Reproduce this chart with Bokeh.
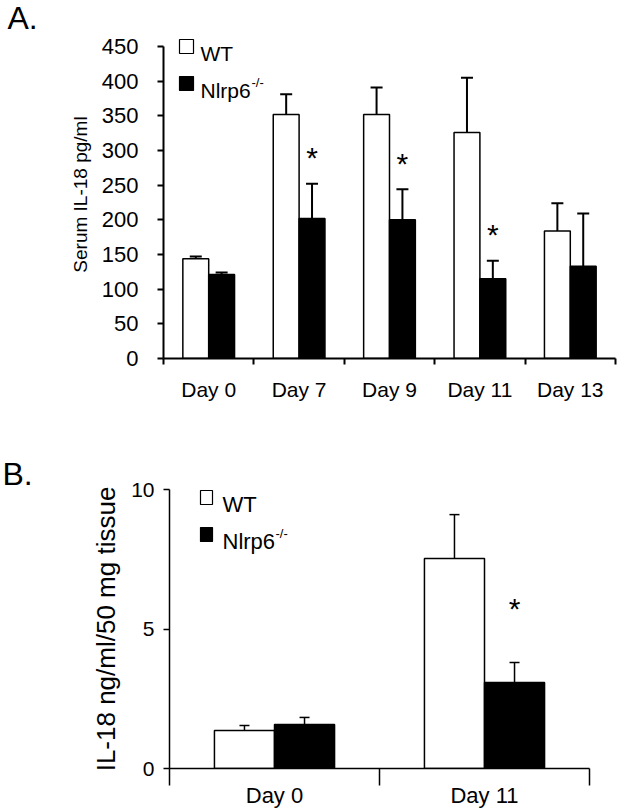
from bokeh.plotting import figure
from bokeh.models import (ColumnDataSource, FixedTicker, Whisker, TeeHead, Label,
                          BoxAnnotation, Range1d)
from bokeh.embed import file_html
from bokeh.resources import INLINE
from bokeh.core.properties import value

FONT = "Liberation Sans"

# ---------------- data ----------------
days_a = ["Day 0", "Day 7", "Day 9", "Day 11", "Day 13"]
wt_a = [144, 352, 352, 326, 184]
wt_a_err = [3, 29, 39, 79, 40]
ko_a = [121, 202, 200, 115, 133]
ko_a_err = [3, 50, 44, 26, 76]
sig_a = [False, True, True, True, False]
yticks_a = [0, 50, 100, 150, 200, 250, 300, 350, 400, 450]

days_b = ["Day 0", "Day 11"]
wt_b = [1.36, 7.53]
wt_b_err = [0.18, 1.57]
ko_b = [1.58, 3.08]
ko_b_err = [0.25, 0.72]
sig_b = [False, True]
yticks_b = [0, 5, 10]

BAR_W = 0.286


def style_axes(p, axis_w, ytick_len, xtick_len, ylab_font, xlab_font, title_font,
               label_standoff, title_standoff, xlab_standoff):
    p.xgrid.visible = False
    p.ygrid.visible = False
    p.outline_line_color = None
    for ax in (p.xaxis[0], p.yaxis[0]):
        ax.axis_line_color = "black"
        ax.axis_line_width = axis_w
        ax.major_label_text_font = FONT
        ax.major_label_text_color = "black"
        ax.axis_label_text_font = FONT
        ax.axis_label_text_font_style = "normal"
        ax.axis_label_text_color = "black"
    ya = p.yaxis[0]
    ya.major_tick_out = ytick_len
    ya.major_tick_in = 0
    ya.major_tick_line_width = axis_w
    ya.major_tick_line_color = "black"
    ya.minor_tick_line_color = None
    ya.major_label_text_font_size = ylab_font
    ya.axis_label_text_font_size = title_font
    ya.major_label_standoff = label_standoff
    ya.axis_label_standoff = title_standoff
    xa = p.xaxis[0]
    xa.major_tick_out = 0
    xa.major_tick_in = 0
    xa.major_tick_line_color = None
    xa.minor_tick_out = xtick_len
    xa.minor_tick_in = 0
    xa.minor_tick_line_color = "black"
    xa.minor_tick_line_width = axis_w
    xa.major_label_text_font_size = xlab_font
    xa.major_label_standoff = xlab_standoff


def bars(p, cats, wt, wt_err, ko, ko_err, sig, cap, wlw, star_off, star_size):
    n = len(cats)
    xc = [i + 0.5 for i in range(n)]
    xw = [c - BAR_W / 2 for c in xc]
    xk = [c + BAR_W / 2 for c in xc]
    src = ColumnDataSource(dict(
        xw=xw, xk=xk, wt=wt, ko=ko,
        wt_up=[a + b for a, b in zip(wt, wt_err)],
        ko_up=[a + b for a, b in zip(ko, ko_err)],
    ))
    p.vbar(x="xw", top="wt", bottom=0, width=BAR_W, source=src,
           fill_color="white", line_color="black", line_width=1.5)
    p.vbar(x="xk", top="ko", bottom=0, width=BAR_W, source=src,
           fill_color="black", line_color="black", line_width=1.5)
    p.add_layout(Whisker(base="xw", lower="wt", upper="wt_up", source=src,
                         line_width=wlw, line_color="black", lower_head=None,
                         upper_head=TeeHead(size=cap, line_width=wlw, line_color="black")))
    p.add_layout(Whisker(base="xk", lower="ko", upper="ko_up", source=src,
                         line_width=wlw, line_color="black", lower_head=None,
                         upper_head=TeeHead(size=cap, line_width=wlw, line_color="black")))
    sx = [xk[i] for i in range(n) if sig[i]]
    sy = [ko[i] + ko_err[i] for i in range(n) if sig[i]]
    p.text(x=sx, y=sy, text=["*"] * len(sx), text_align="center",
           text_baseline="middle", y_offset=star_off,
           text_font=value(FONT), text_font_size=star_size, text_color="black")
    xt = FixedTicker(ticks=xc, minor_ticks=list(range(n + 1)))
    p.xaxis[0].ticker = xt
    p.xaxis[0].major_label_overrides = {c: cats[i] for i, c in enumerate(xc)}


def legend(p, box_x, box_w, rows_top, box_h, text_x, font, sup_x, sup_dy):
    names = ["WT", "Nlrp6"]
    fills = ["white", "black"]
    for name, fill, top in zip(names, fills, rows_top):
        p.add_layout(BoxAnnotation(left=box_x, right=box_x + box_w, top=top,
                                   bottom=top - box_h, left_units="screen",
                                   right_units="screen", top_units="screen",
                                   bottom_units="screen", fill_color=fill,
                                   fill_alpha=1, line_color="black", line_width=1.2,
                                   line_alpha=1, level="overlay"))
        p.add_layout(Label(x=text_x, y=top - box_h, x_units="screen", y_units="screen",
                           text=name, text_font=FONT, text_font_size=font,
                           text_color="black", text_baseline="alphabetic"))
    p.add_layout(Label(x=sup_x, y=rows_top[1] - box_h + sup_dy, x_units="screen",
                       y_units="screen", text="-/-", text_font=FONT,
                       text_font_size="13px", text_color="black",
                       text_baseline="alphabetic"))


def panel_title(p, text, offset, standoff, valign):
    p.title.text = text
    p.title.align = "left"
    p.title.offset = offset
    p.title.standoff = standoff
    p.title.vertical_align = valign
    p.title.text_font = FONT
    p.title.text_font_size = "32px"
    p.title.text_font_style = "normal"
    p.title.text_color = "black"


# ---------------- Panel A ----------------
# frame extends 16 px above the 450 tick so the legend (which sits above it) is visible
A_TOP, A_FRAME, A_AXIS = 30, 328, 312
pA = figure(width=622, height=418, output_backend="svg", toolbar_location=None,
            x_range=Range1d(0, len(days_a)),
            y_range=Range1d(0, max(yticks_a) * A_FRAME / A_AXIS),
            min_border_left=163, min_border_right=7, min_border_top=A_TOP,
            min_border_bottom=60)
pA.background_fill_color = "white"
pA.border_fill_color = "white"
style_axes(pA, 2, 6, 6, "22px", "21px", "19px", 19, 8, 13)
pA.yaxis[0].ticker = FixedTicker(ticks=yticks_a)
pA.yaxis[0].bounds = (0, max(yticks_a))
pA.yaxis[0].axis_label = "Serum IL-18 pg/ml"
bars(pA, days_a, wt_a, wt_a_err, ko_a, ko_a_err, sig_a, 12, 2, -26, "30px")
legend(pA, 16, 14, [319, 282], 14, 37, "21px", 88, 8)
panel_title(pA, "A.", -156, -10, "bottom")

# ---------------- Panel B ----------------
pB = figure(width=622, height=393, output_backend="svg", toolbar_location=None,
            x_range=Range1d(0, len(days_b)), y_range=Range1d(0, 10),
            min_border_left=169, min_border_right=33, min_border_top=71,
            min_border_bottom=43)
pB.background_fill_color = "white"
pB.border_fill_color = "white"
style_axes(pB, 1.5, 6, 17, "21px", "22px", "26px", 9, 7, -3)
pB.yaxis[0].ticker = FixedTicker(ticks=yticks_b)
pB.yaxis[0].axis_label = "IL-18 ng/ml/50 mg tissue"
bars(pB, days_b, wt_b, wt_b_err, ko_b, ko_b_err, sig_b, 10, 1.5, -54, "30px")
legend(pB, 31, 12, [278, 241], 14, 53, "22px", 106, 8)
panel_title(pB, "B.", -167, -4, "bottom")

open("out.html", "w").write(file_html([pA, pB], INLINE))
